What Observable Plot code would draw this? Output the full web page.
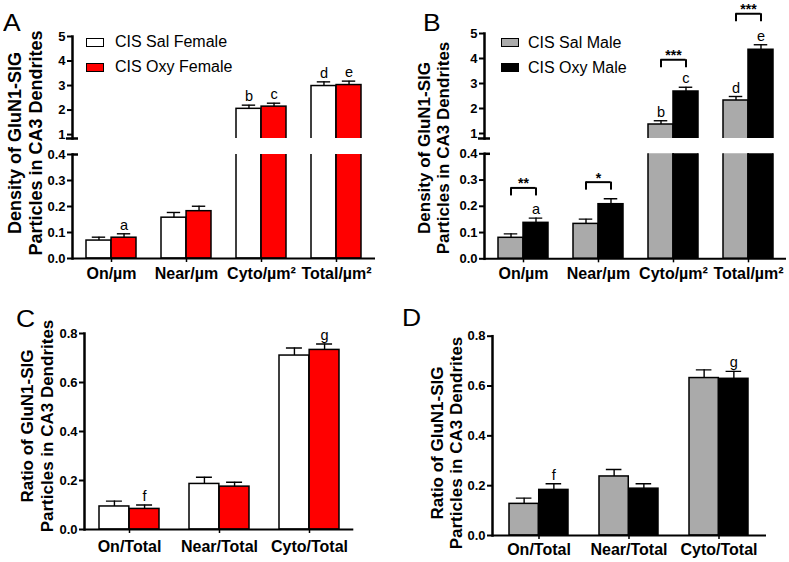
<!DOCTYPE html>
<html>
<head>
<meta charset="utf-8">
<script src="https://cdn.jsdelivr.net/npm/d3@7"></script>
<script src="https://cdn.jsdelivr.net/npm/@observablehq/plot@0.6"></script>
<style>
  body { margin: 0; background: #fff; font-family: "Liberation Sans", Arial, sans-serif; }
  #root { position: relative; width: 789px; height: 562px; overflow: hidden; background: #fff; }
  .abs { position: absolute; }
  .ptitle { position: absolute; font-weight: bold; white-space: nowrap; transform: translate(-50%, -50%) rotate(-90deg); }
  .plabel { position: absolute; font-size: 23px; line-height: 23px; transform: scaleX(1.15); transform-origin: left top; }
  .legtext { position: absolute; font-size: 16px; line-height: 16px; white-space: nowrap; }
  .legbox { position: absolute; width: 18px; height: 9px; border: 1.5px solid #000; box-sizing: border-box; }
</style>
</head>
<body>
<div id="root"></div>
<script>
// ---------- data ----------
const catsDensity = ["On/µm", "Near/µm", "Cyto/µm²", "Total/µm²"];
const catsRatio = ["On/Total", "Near/Total", "Cyto/Total"];

// Panel A: female density
const aSal = [0.069, 0.157, 2.05, 2.98];
const aSalErr = [0.013, 0.020, 0.15, 0.17];
const aOxy = [0.080, 0.182, 2.14, 3.02];
const aOxyErr = [0.015, 0.019, 0.14, 0.16];
const aSalLetters = ["", "", "b", "d"];
const aOxyLetters = ["a", "", "c", "e"];

// Panel B: male density
const bSal = [0.080, 0.133, 1.36, 2.32];
const bSalErr = [0.015, 0.018, 0.15, 0.16];
const bOxy = [0.137, 0.208, 2.68, 4.35];
const bOxyErr = [0.018, 0.021, 0.17, 0.20];
const bSalLetters = ["", "", "b", "d"];
const bOxyLetters = ["a", "", "c", "e"];
const bSigLabels = ["**", "*", "***", "***"];
const bSigLevels = [0.270, 0.292, 3.95, 5.79];

// Panel C: female ratio
const cSal = [0.094, 0.186, 0.710];
const cSalErr = [0.022, 0.027, 0.031];
const cOxy = [0.084, 0.175, 0.733];
const cOxyErr = [0.016, 0.018, 0.024];
const cSalLetters = ["", "", ""];
const cOxyLetters = ["f", "", "g"];

// Panel D: male ratio
const dSal = [0.127, 0.237, 0.632];
const dSalErr = [0.023, 0.028, 0.033];
const dOxy = [0.183, 0.188, 0.629];
const dOxyErr = [0.025, 0.020, 0.030];
const dSalLetters = ["", "", ""];
const dOxyLetters = ["f", "", "g"];

const ticksTop = [1, 2, 3, 4, 5];
const ticksLow = [0, 0.1, 0.2, 0.3, 0.4];
const ticksRatio = [0, 0.2, 0.4, 0.6, 0.8];

const femaleFills = ["#ffffff", "#ff0000"];
const maleFills = ["#aaaaaa", "#000000"];
const femaleLegend = ["CIS Sal Female", "CIS Oxy Female"];
const maleLegend = ["CIS Sal Male", "CIS Oxy Male"];

// ---------- helpers ----------
const root = document.getElementById("root");
const FONT = "'Liberation Sans', Arial, sans-serif";

function place(node, left, top) {
  const d = document.createElement("div");
  d.className = "abs";
  d.style.left = left + "px";
  d.style.top = top + "px";
  d.appendChild(node);
  root.appendChild(d);
}

function panel(cfg) {
  const {cats, sal, salErr, oxy, oxyErr, salLet, oxyLet, fills, width, height,
         ml, mr, mt, mb, domain, ticks, fmt, pi, po, xAxis, tickPadding,
         breakBoth, breakRight, sig, sigFilter} = cfg;
  const band = d3.scaleBand().domain(cats).range([ml, width - mr]).paddingInner(pi).paddingOuter(po);
  const bw = band.bandwidth(), q = bw / 4, h = bw / 2, hc = h * 0.27;
  const pxPerUnit = (height - mt - mb) / (domain[1] - domain[0]);
  const S = cats.map((c, i) => ({cat: c, v: sal[i], e: salErr[i], L: salLet[i]}));
  const O = cats.map((c, i) => ({cat: c, v: oxy[i], e: oxyErr[i], L: oxyLet[i]}));
  const inR = d => d.L && d.v + d.e >= domain[0] && d.v + d.e <= domain[1];
  const top = d => d.v + d.e;
  const marks = [
    Plot.barY(S, {x: "cat", y1: 0, y2: "v", fill: fills[0], stroke: "black", strokeWidth: 1.5, insetRight: h, clip: true}),
    Plot.barY(O, {x: "cat", y1: 0, y2: "v", fill: fills[1], stroke: "black", strokeWidth: 1.5, insetLeft: h, clip: true}),
    Plot.ruleX(S, {x: "cat", y1: "v", y2: top, dx: -q, strokeWidth: 1.4, clip: true}),
    Plot.ruleX(O, {x: "cat", y1: "v", y2: top, dx: q, strokeWidth: 1.4, clip: true}),
    Plot.tickY(S, {x: "cat", y: top, insetLeft: q - hc, insetRight: 3 * q - hc, strokeWidth: 1.4, clip: true}),
    Plot.tickY(O, {x: "cat", y: top, insetLeft: 3 * q - hc, insetRight: q - hc, strokeWidth: 1.4, clip: true}),
    Plot.text(S.filter(inR), {x: "cat", y: top, text: "L", dx: -q, dy: -4, lineAnchor: "bottom", fontSize: 14.5, fontWeight: "normal"}),
    Plot.text(O.filter(inR), {x: "cat", y: top, text: "L", dx: q, dy: -4, lineAnchor: "bottom", fontSize: 14.5, fontWeight: "normal"}),
    Plot.frame({anchor: "left", strokeWidth: 2.5}),
    Plot.axisY({ticks, tickFormat: fmt, tickSize: 5, tickPadding: 2, fontSize: 13, strokeWidth: 2})
  ];
  if (breakBoth != null) {
    marks.push(Plot.axisY({ticks: [breakBoth], tickFormat: () => "", tickSize: 6, strokeWidth: 2.5}));
    marks.push(Plot.axisY({ticks: [breakBoth], tickFormat: () => "", tickSize: -6, strokeWidth: 2.5}));
  }
  if (breakRight != null) {
    marks.push(Plot.axisY({ticks: [breakRight], tickFormat: () => "", tickSize: -6, strokeWidth: 2.5}));
  }
  if (xAxis) {
    marks.push(Plot.ruleY([domain[0]], {strokeWidth: 2}));
    marks.push(Plot.axisX({tickSize: 4, tickPadding, fontSize: 16, strokeWidth: 1.5}));
  }
  if (sig) {
    const leg = 8 / pxPerUnit;
    const sd = cats.map((c, i) => ({cat: c, y: sig.levels[i], s: sig.labels[i]})).filter(sigFilter);
    marks.push(Plot.tickY(sd, {x: "cat", y: "y", insetLeft: q, insetRight: q, strokeWidth: 2}));
    marks.push(Plot.ruleX(sd, {x: "cat", y1: "y", y2: d => d.y - leg, dx: -q, strokeWidth: 2}));
    marks.push(Plot.ruleX(sd, {x: "cat", y1: "y", y2: d => d.y - leg, dx: q, strokeWidth: 2}));
    marks.push(Plot.text(sd, {x: "cat", y: "y", text: "s", dy: -4, lineAnchor: "middle", fontSize: 14, fontWeight: "bold"}));
  }
  return Plot.plot({
    width, height,
    marginLeft: ml, marginRight: mr, marginTop: mt, marginBottom: mb,
    x: {type: "band", domain: cats, paddingInner: pi, paddingOuter: po, axis: null, label: null},
    y: {domain, axis: null, label: null},
    style: {fontFamily: FONT, fontWeight: "bold", color: "black", background: "transparent", overflow: "visible"},
    marks
  });
}

function title(lines, xs, cy, size) {
  lines.forEach((t, i) => {
    const d = document.createElement("div");
    d.className = "ptitle";
    d.textContent = t;
    d.style.left = xs[i] + "px";
    d.style.top = cy + "px";
    d.style.fontSize = size + "px";
    d.style.lineHeight = size + "px";
    root.appendChild(d);
  });
}

function letter(t, x, capTop) {
  const d = document.createElement("div");
  d.className = "plabel";
  d.textContent = t;
  d.style.left = x + "px";
  d.style.top = (capTop - 3) + "px";
  root.appendChild(d);
}

function legend(labels, fills, bx, tx, rows) {
  labels.forEach((t, i) => {
    const b = document.createElement("div");
    b.className = "legbox";
    b.style.left = bx + "px";
    b.style.top = (rows[i] - 4.5) + "px";
    b.style.background = fills[i];
    root.appendChild(b);
    const s = document.createElement("div");
    s.className = "legtext";
    s.textContent = t;
    s.style.left = tx + "px";
    s.style.top = (rows[i] - 8) + "px";
    root.appendChild(s);
  });
}

const f1 = d3.format(".1f"), f0 = d3.format("d");

// ---------- Panel A ----------
const baseA = {cats: catsDensity, sal: aSal, salErr: aSalErr, oxy: aOxy, oxyErr: aOxyErr,
  salLet: aSalLetters, oxyLet: aOxyLetters, fills: femaleFills, width: 395, ml: 72, mr: 20, pi: 0.338, po: 0.169};
place(panel({...baseA, height: 140, mt: 36, mb: 2, domain: [0.84, 5], ticks: ticksTop, fmt: f0, breakBoth: 0.84}), 0, 0);
place(panel({...baseA, height: 150, mt: 14, mb: 32, domain: [0, 0.4], ticks: ticksLow, fmt: f1, breakRight: 0.4, xAxis: true, tickPadding: 5}), 0, 140);

// ---------- Panel B ----------
const baseB = {cats: catsDensity, sal: bSal, salErr: bSalErr, oxy: bOxy, oxyErr: bOxyErr,
  salLet: bSalLetters, oxyLet: bOxyLetters, fills: maleFills, width: 394, ml: 89, mr: 3, pi: 0.338, po: 0.169,
  sig: {levels: bSigLevels, labels: bSigLabels}};
place(panel({...baseB, height: 140, mt: 33, mb: 2, domain: [0.8, 5], ticks: ticksTop, fmt: f0, breakBoth: 0.8, sigFilter: d => d.y > 1}), 395, 0);
place(panel({...baseB, height: 150, mt: 13.3, mb: 31.7, domain: [0, 0.4], ticks: ticksLow, fmt: f1, breakRight: 0.4, xAxis: true, tickPadding: 5, sigFilter: d => d.y < 1}), 395, 140);

// ---------- Panel C ----------
place(panel({cats: catsRatio, sal: cSal, salErr: cSalErr, oxy: cOxy, oxyErr: cOxyErr,
  salLet: cSalLetters, oxyLet: cOxyLetters, fills: femaleFills, width: 395, height: 272,
  ml: 84, mr: 41.7, mt: 43, mb: 33, domain: [0, 0.8], ticks: ticksRatio, fmt: f1,
  pi: 0.333, po: 0.156, xAxis: true, tickPadding: 7}), 0, 290);

// ---------- Panel D ----------
place(panel({cats: catsRatio, sal: dSal, salErr: dSalErr, oxy: dOxy, oxyErr: dOxyErr,
  salLet: dSalLetters, oxyLet: dOxyLetters, fills: maleFills, width: 394, height: 272,
  ml: 97, mr: 23, mt: 45.7, mb: 27, domain: [0, 0.8], ticks: ticksRatio, fmt: f1,
  pi: 0.343, po: 0.185, xAxis: true, tickPadding: 4}), 395, 290);

// ---------- titles, legends, panel letters ----------
title(["Density of GluN1-SIG", "Particles in CA3 Dendrites"], [14.7, 35.8], 143, 18);
title(["Density of GluN1-SIG", "Particles in CA3 Dendrites"], [424, 443], 148, 17);
title(["Ratio of GluN1-SIG", "Particles in CA3 Dendrites"], [26.6, 47], 426, 17);
title(["Ratio of GluN1-SIG", "Particles in CA3 Dendrites"], [436.6, 456], 443, 17);

legend(femaleLegend, femaleFills, 86, 115, [42.3, 67]);
legend(maleLegend, maleFills, 501, 528, [42.5, 67.5]);

letter("A", 3, 15);
letter("B", 423, 15);
letter("C", 16, 311);
letter("D", 402, 310);
</script>
</body>
</html>
